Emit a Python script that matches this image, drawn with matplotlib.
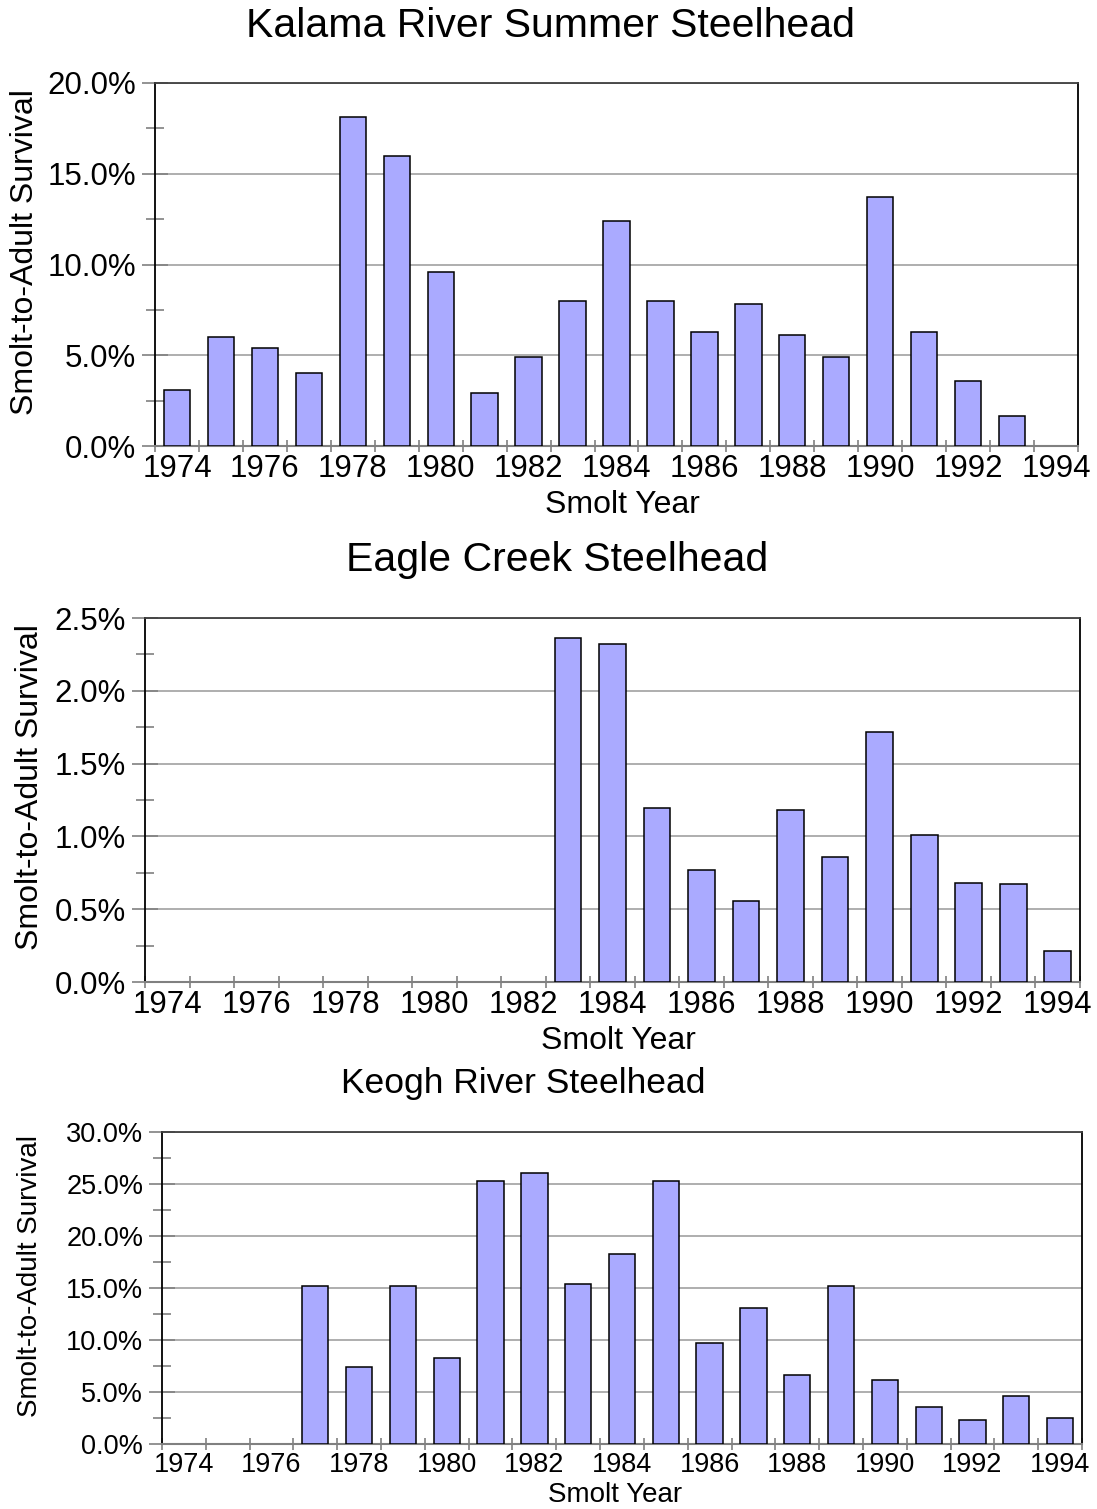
import numpy as np
import matplotlib.pyplot as plt
from matplotlib.ticker import MultipleLocator, FuncFormatter

plt.rcParams['font.family'] = ['Liberation Sans', 'DejaVu Sans']

years = list(range(1974, 1995))

# smolt-to-adult survival, percent (None = no data)
kalama = [3.1, 6.0, 5.4, 4.0, 18.1, 16.0, 9.6, 2.9, 4.9, 8.0,
          12.4, 8.0, 6.3, 7.8, 6.1, 4.9, 13.7, 6.3, 3.6, 1.65, None]
eagle = [None] * 9 + [2.36, 2.32, 1.195, 0.77, 0.555, 1.18, 0.86,
                      1.72, 1.01, 0.68, 0.67, 0.21]
keogh = [None] * 3 + [15.2, 7.4, 15.2, 8.3, 25.3, 26.1, 15.4, 18.3,
                      25.3, 9.75, 13.1, 6.6, 15.2, 6.2, 3.56, 2.27, 4.6, 2.46]

W, H = 1097, 1509
fig = plt.figure(figsize=(W / 100, H / 100), dpi=100)

bar_color = '#aaaaff'
grid_color = '#a8a8a8'
tick_color = '#808080'


def px_axes(left, right, top, bottom):
    return fig.add_axes([left / W, 1 - bottom / H, (right - left) / W, (bottom - top) / H])


def panel(ax, vals, ymax, major, fs):
    xs = [y for y, v in zip(years, vals) if v is not None]
    hs = [v for v in vals if v is not None]
    ax.bar(xs, hs, width=0.6, color=bar_color, edgecolor='black', linewidth=1.1, zorder=3)
    ax.set_xlim(years[0] - 0.5, years[-1] + 0.5)
    ax.set_ylim(0, ymax)
    ax.yaxis.set_major_locator(MultipleLocator(major))
    ax.yaxis.set_minor_locator(MultipleLocator(major / 2))
    ax.yaxis.set_major_formatter(FuncFormatter(lambda v, p: f'{v:.1f}%'))
    ax.grid(axis='y', which='major', color=grid_color, linewidth=1.3, zorder=0)
    ax.set_axisbelow(True)
    ax.set_xticks(years[::2])
    ax.set_xticks(np.arange(years[0] - 0.5, years[-1] + 1.0, 1.0), minor=True)
    ax.tick_params(axis='x', which='major', length=0, pad=6, labelsize=fs)
    ax.tick_params(axis='x', which='minor', direction='inout', length=8, width=1.2, color=tick_color)
    ax.tick_params(axis='y', which='major', direction='inout', length=19, width=1.2,
                   color=tick_color, labelsize=fs, pad=4)
    ax.tick_params(axis='y', which='minor', direction='inout', length=13, width=1.2, color=tick_color)
    for s in ['left', 'right']:
        ax.spines[s].set_color('black')
        ax.spines[s].set_linewidth(1.3)
    ax.spines['top'].set_color('#404040')
    ax.spines['top'].set_linewidth(1.3)
    ax.spines['bottom'].set_color(tick_color)
    ax.spines['bottom'].set_linewidth(1.5)


ax1 = px_axes(155, 1078, 83, 446)
panel(ax1, kalama, 20, 5, 22.5)
fig.text(551 / W, 1 - 26 / H, 'Kalama River Summer Steelhead', ha='center', va='center', fontsize=29.5)
fig.text(25 / W, 1 - 252 / H, 'Smolt-to-Adult Survival', rotation=90, ha='center', va='center', fontsize=23)
fig.text(622 / W, 1 - 505 / H, 'Smolt Year', ha='center', va='center', fontsize=23)

ax2 = px_axes(145, 1080, 618, 982)
panel(ax2, eagle, 2.5, 0.5, 22.5)
fig.text(557 / W, 1 - 560 / H, 'Eagle Creek Steelhead', ha='center', va='center', fontsize=29.5)
fig.text(30 / W, 1 - 787 / H, 'Smolt-to-Adult Survival', rotation=90, ha='center', va='center', fontsize=23)
fig.text(618 / W, 1 - 1041 / H, 'Smolt Year', ha='center', va='center', fontsize=23)

ax3 = px_axes(162, 1082, 1132, 1444)
panel(ax3, keogh, 30, 5, 19.5)
fig.text(523 / W, 1 - 1083 / H, 'Keogh River Steelhead', ha='center', va='center', fontsize=25.5)
fig.text(30 / W, 1 - 1276 / H, 'Smolt-to-Adult Survival', rotation=90, ha='center', va='center', fontsize=20)
fig.text(615 / W, 1 - 1495 / H, 'Smolt Year', ha='center', va='center', fontsize=20)

fig.savefig('out.png', dpi=100)
